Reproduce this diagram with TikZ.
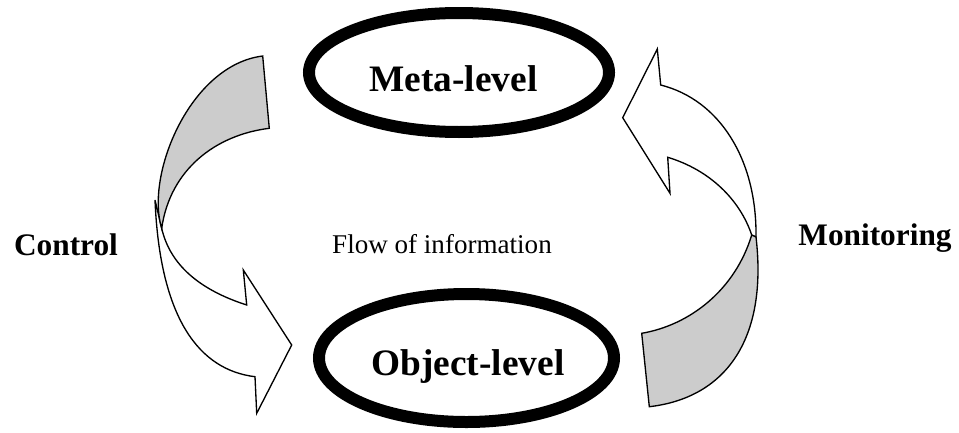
\documentclass[tikz,border=0pt]{standalone}
\usepackage{fontspec}
\setmainfont{Liberation Serif}
\definecolor{bandgray}{RGB}{204,204,204}
\tikzset{
  ring/.style={draw=black, line width=9pt},
  band/.style={draw=black, line width=1pt, line join=miter},
  bigtxt/.style={font=\bfseries\fontsize{28}{32}\selectfont, anchor=base, inner sep=0pt},
  sidetxt/.style={font=\bfseries\fontsize{23.5}{28}\selectfont, anchor=base, inner sep=0pt},
  flowtxt/.style={font=\fontsize{20.3}{24}\selectfont, anchor=base, inner sep=0pt}
}
\begin{document}
\begin{tikzpicture}[x=0.75pt,y=-0.75pt]
\useasboundingbox (0,0) rectangle (959,432);

% ellipses
\coordinate (meta) at (459,72.5);
\coordinate (object) at (466.5,358);
\draw[ring] (meta) ellipse [x radius=150, y radius=59.5];
\draw[ring] (object) ellipse [x radius=147.5, y radius=64];
\node[bigtxt] (metatxt) at (453.5,91.7) {Meta-level};
\node[bigtxt] (objtxt) at (468,375) {Object-level};

% side labels
\node[sidetxt] (control) at (66,255) {Control};
\node[sidetxt] (monitor) at (875,245) {Monitoring};
\node[flowtxt] (flow) at (442,253) {Flow of information};

% left arrow: white front band with head
\filldraw[band, fill=white]
  (155,200) .. controls (160,320) and (200,370) .. (255,376.7)
  -- (256.7,413.3) -- (291.7,345) -- (243.3,270) -- (246.7,305)
  .. controls (200,290) and (170,265) .. (161.7,228.3)
  -- cycle;
% left arrow: gray back band
\filldraw[band, fill=bandgray]
  (262.7,56) -- (269.3,128.3)
  .. controls (215,135) and (170,170) .. (161.7,228.3)
  .. controls (145,175) and (190,65) .. (262.7,56)
  -- cycle;

% right arrow: white band with head
\filldraw[band, fill=white]
  (622.7,117.7) -- (657.3,49) -- (660.7,85)
  .. controls (720,100) and (757,160) .. (756,237)
  -- (751.7,235)
  .. controls (740,200) and (710,170) .. (667.7,157.3)
  -- (670,193.3) -- cycle;
% right arrow: gray back band
\filldraw[band, fill=bandgray]
  (751.7,235) .. controls (735,290) and (690,325) .. (641.7,333.3)
  -- (649.3,406.7)
  .. controls (725,398) and (768,340) .. (756,237)
  -- cycle;
\end{tikzpicture}
\end{document}
